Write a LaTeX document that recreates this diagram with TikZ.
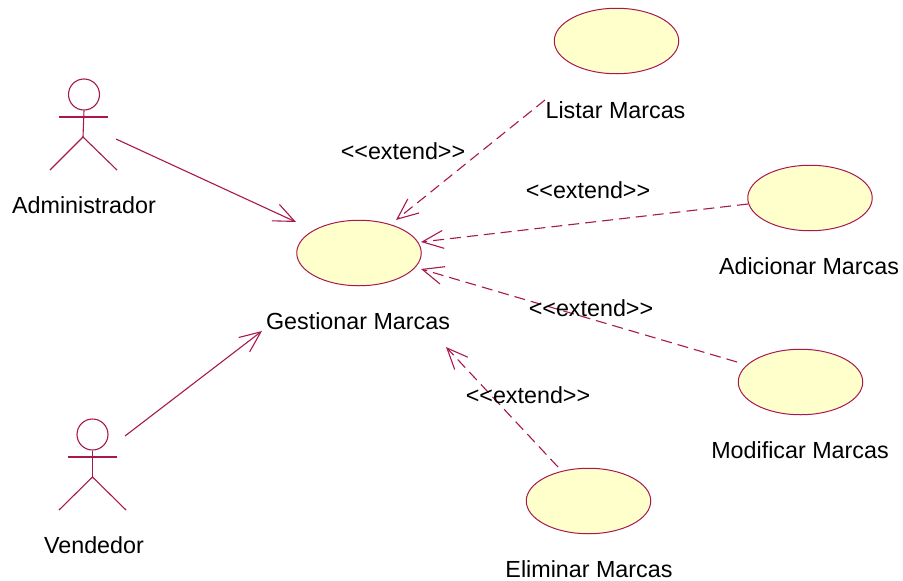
\documentclass[tikz,border=0pt]{standalone}
\usepackage{fontspec}
\setmainfont{Liberation Sans}
\usetikzlibrary{arrows.meta,shapes.geometric}
\definecolor{umlline}{HTML}{A8174F}
\definecolor{umlfill}{HTML}{FFFFCB}
\tikzset{
  usecase/.style={ellipse,draw=umlline,fill=umlfill,line width=1pt,minimum width=124.5pt,minimum height=65.5pt,inner sep=0pt},
  txt/.style={font=\fontsize{23.3}{26}\selectfont,text=black,inner sep=0pt},
  vtip/.style={-{Straight Barb[length=21pt,width=18pt,line width=1.1pt]}},
  assoc/.style={draw=umlline,line width=1.1pt,vtip},
  ext/.style={draw=umlline,line width=1.1pt,vtip,dash pattern=on 11pt off 6pt},
  limb/.style={draw=umlline,line width=1.1pt},
  actorhead/.style={circle,draw=umlline,line width=1.1pt,minimum size=31pt,inner sep=0pt}
}
\begin{document}
\begin{tikzpicture}[x=1pt,y=-1pt]
\useasboundingbox (0,0) rectangle (903,581);
% use cases
\node[usecase] (listar) at (616.5,41) {};
\node[usecase] (adic) at (810,198) {};
\node[usecase] (modif) at (800.5,382) {};
\node[usecase] (elim) at (588.5,501) {};
\node[usecase] (gest) at (359,253) {};
% actor 1
\node[actorhead] (h1) at (84,94.5) {};
\coordinate (n1) at (83,137);
\draw[limb] (h1.south) -- (n1);
\coordinate (a1l) at (59,117); \coordinate (a1r) at (108,117);
\coordinate (l1l) at (50,170); \coordinate (l1r) at (117,170);
\draw[limb] (a1l) -- (a1r);
\draw[limb] (l1l) -- (n1) -- (l1r);
% actor 2
\node[actorhead] (h2) at (92.5,434.5) {};
\coordinate (n2) at (92.5,477);
\draw[limb] (h2.south) -- (n2);
\coordinate (a2l) at (68,457); \coordinate (a2r) at (117,457);
\coordinate (l2l) at (59,510); \coordinate (l2r) at (126,510);
\draw[limb] (a2l) -- (a2r);
\draw[limb] (l2l) -- (n2) -- (l2r);
% connector ends
\coordinate (s1) at (116,139); \coordinate (t1) at (296,222);
\coordinate (s2) at (125,436); \coordinate (t2) at (262,331);
\coordinate (s3) at (545,100); \coordinate (t3) at (396,220);
\coordinate (s4) at (748,204); \coordinate (t4) at (421,242);
\coordinate (s5) at (737,362); \coordinate (t5) at (421,269);
\coordinate (s6) at (558,467); \coordinate (t6) at (446,347);
\draw[assoc] (s1) -- (t1);
\draw[assoc] (s2) -- (t2);
\draw[ext] (s3) -- (t3);
\draw[ext] (s4) -- (t4);
\draw[ext] (s5) -- (t5);
\draw[ext] (s6) -- (t6);
% labels
\node[txt] (ladm) at (84,205.3) {Administrador};
\node[txt] (lven) at (94,545.3) {Vendedor};
\node[txt] (lges) at (358,321.3) {Gestionar Marcas};
\node[txt] (llis) at (615.5,110.3) {Listar Marcas};
\node[txt] (ladi) at (809,266.3) {Adicionar Marcas};
\node[txt] (lmod) at (800,450.3) {Modificar Marcas};
\node[txt] (leli) at (589,569.3) {Eliminar Marcas};
\node[txt] (e1) at (403,151.3) {<{}<extend>{}>};
\node[txt] (e2) at (588,190.3) {<{}<extend>{}>};
\node[txt] (e3) at (591,308.3) {<{}<extend>{}>};
\node[txt] (e4) at (528,395.3) {<{}<extend>{}>};
\end{tikzpicture}
\end{document}
